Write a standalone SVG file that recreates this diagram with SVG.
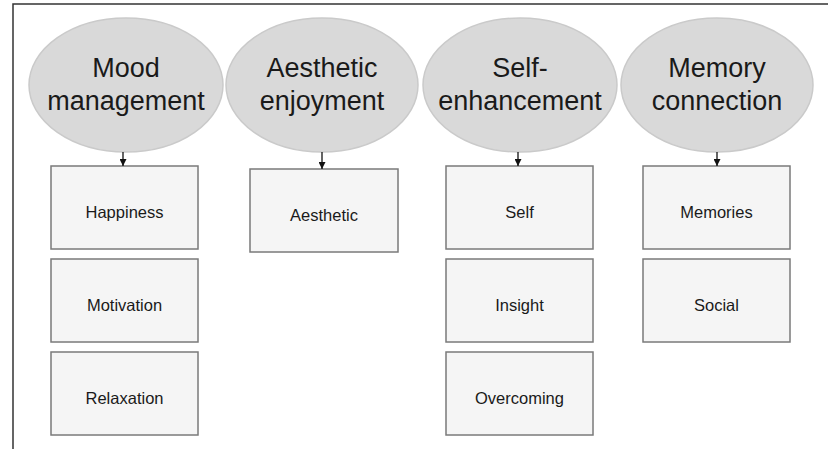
<svg xmlns="http://www.w3.org/2000/svg" width="828" height="449" viewBox="0 0 828 449">
<defs>
<style>
.ell{fill:#d9d9d9;stroke:#cacaca;stroke-width:1.5}
.big{font-family:"Liberation Sans",Arial,sans-serif;font-size:27px;fill:#1a1a1a;text-anchor:middle}
.box{fill:#f5f5f5;stroke:#7a7a7a;stroke-width:1.5}
.sm{font-family:"Liberation Sans",Arial,sans-serif;font-size:16.5px;fill:#1a1a1a;text-anchor:middle}
.con{stroke:#111;stroke-width:1.3;fill:none}
</style>
<marker id="ah" viewBox="0 0 10 10" refX="10" refY="5" markerWidth="7" markerHeight="7" markerUnits="userSpaceOnUse" orient="auto">
<path d="M0,0 L10,5 L0,10 z" fill="#111"/>
</marker>
</defs>
<rect width="828" height="449" fill="#fff"/>
<path d="M13,449 V4 H828" fill="none" stroke="#333" stroke-width="1.5"/>
<g id="mood">
<ellipse class="ell" cx="126" cy="85" rx="97" ry="67"/>
<text class="big" x="126" y="77">Mood</text>
<text class="big" x="126" y="110">management</text>
</g>
<g id="aesthetic-enjoyment">
<ellipse class="ell" cx="322" cy="85" rx="96" ry="67"/>
<text class="big" x="322" y="77">Aesthetic</text>
<text class="big" x="322" y="110">enjoyment</text>
</g>
<g id="self-enhancement">
<ellipse class="ell" cx="520" cy="85" rx="97" ry="67"/>
<text class="big" x="520" y="77">Self-</text>
<text class="big" x="520" y="110">enhancement</text>
</g>
<g id="memory-connection">
<ellipse class="ell" cx="717" cy="85" rx="96" ry="67"/>
<text class="big" x="717" y="77">Memory</text>
<text class="big" x="717" y="110">connection</text>
</g>
<g id="happiness"><rect class="box" x="51" y="166" width="147" height="83"/><text class="sm" x="124.5" y="218">Happiness</text></g>
<g id="motivation"><rect class="box" x="51" y="259" width="147" height="83"/><text class="sm" x="124.5" y="311">Motivation</text></g>
<g id="relaxation"><rect class="box" x="51" y="352" width="147" height="83"/><text class="sm" x="124.5" y="404">Relaxation</text></g>
<g id="aesthetic"><rect class="box" x="250" y="169" width="148" height="83"/><text class="sm" x="324" y="221">Aesthetic</text></g>
<g id="self"><rect class="box" x="446" y="166" width="147" height="83"/><text class="sm" x="519.5" y="218">Self</text></g>
<g id="insight"><rect class="box" x="446" y="259" width="147" height="83"/><text class="sm" x="519.5" y="311">Insight</text></g>
<g id="overcoming"><rect class="box" x="446" y="352" width="147" height="83"/><text class="sm" x="519.5" y="404">Overcoming</text></g>
<g id="memories"><rect class="box" x="643" y="166" width="147" height="83"/><text class="sm" x="716.5" y="218">Memories</text></g>
<g id="social"><rect class="box" x="643" y="259" width="147" height="83"/><text class="sm" x="716.5" y="311">Social</text></g>
<g id="connectors">
<line class="con" x1="123" y1="152" x2="123" y2="166" marker-end="url(#ah)"/>
<line class="con" x1="322" y1="152" x2="322" y2="169" marker-end="url(#ah)"/>
<line class="con" x1="518" y1="152" x2="518" y2="166" marker-end="url(#ah)"/>
<line class="con" x1="717" y1="152" x2="717" y2="166" marker-end="url(#ah)"/>
</g>
</svg>
